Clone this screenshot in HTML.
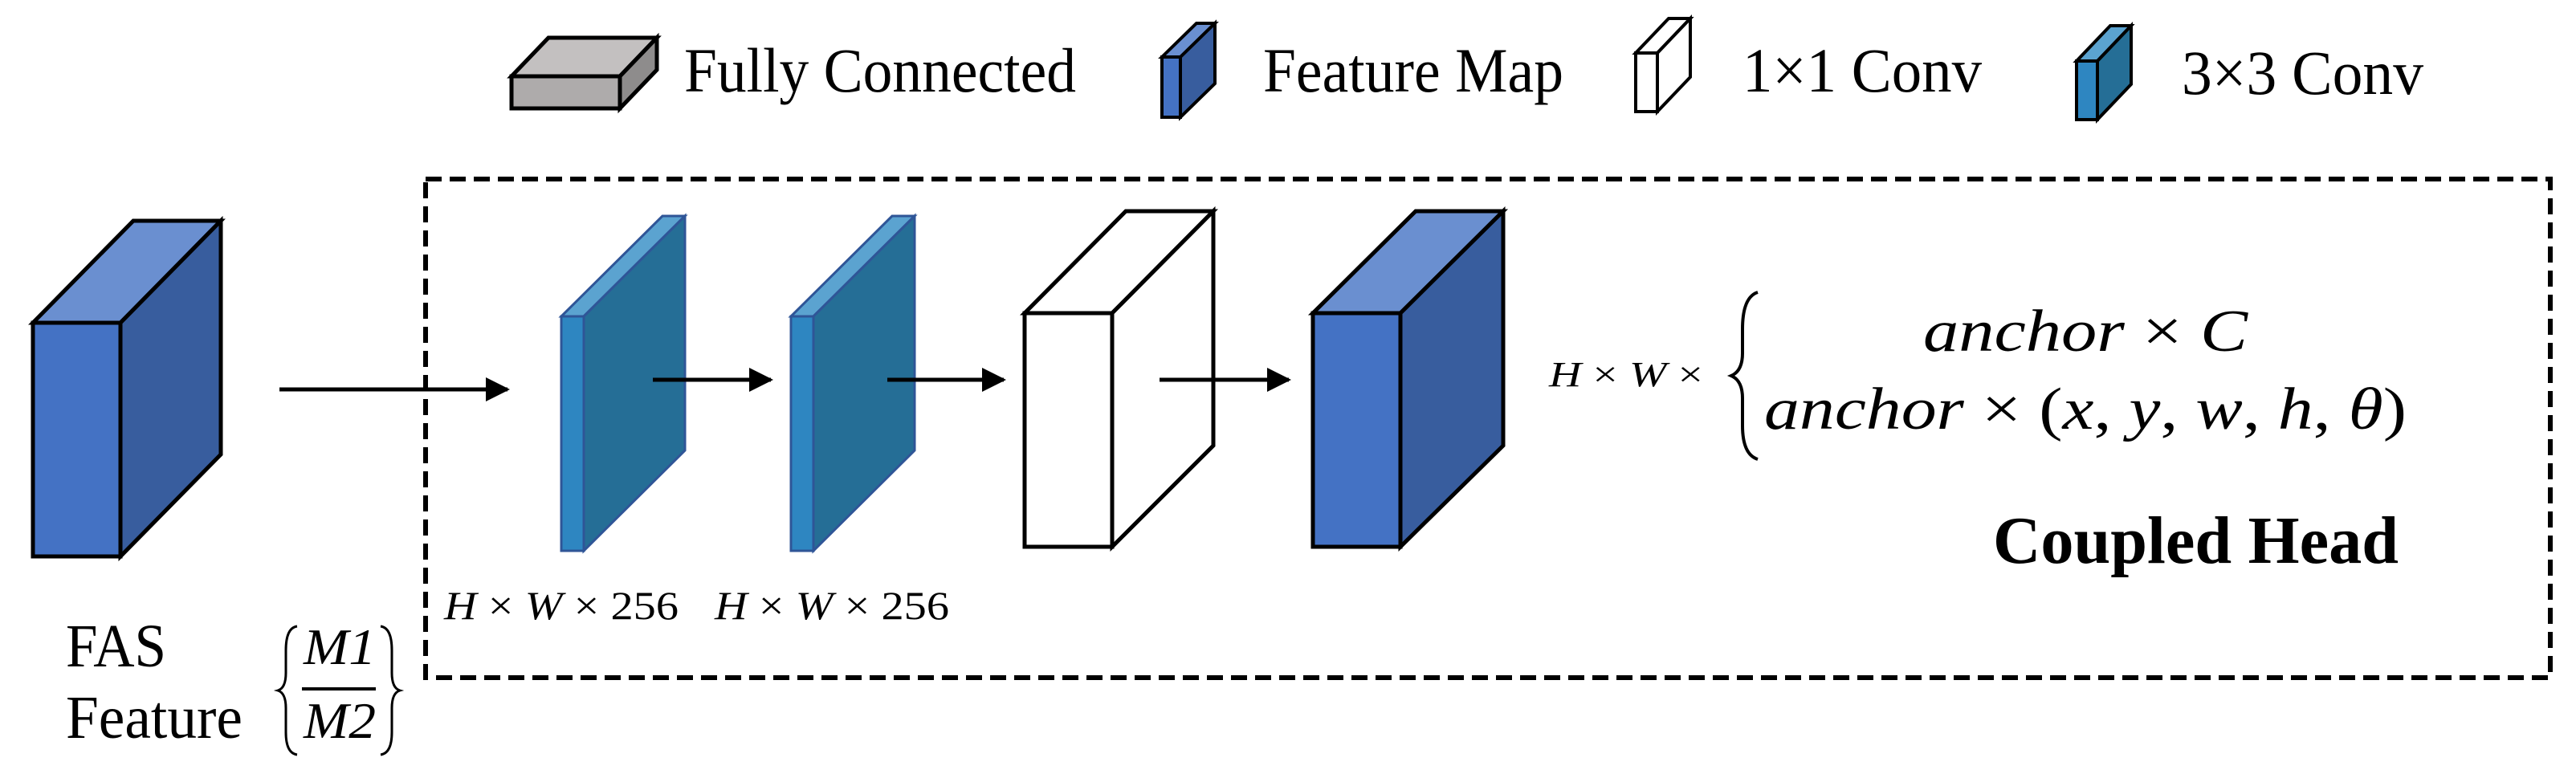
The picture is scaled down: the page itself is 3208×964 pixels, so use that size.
<!DOCTYPE html>
<html><head><meta charset="utf-8"><style>html,body{margin:0;padding:0;background:#fff}svg{display:block}</style></head>
<body>
<svg width="3208" height="964" viewBox="0 0 3208 964" xmlns="http://www.w3.org/2000/svg" font-family="Liberation Serif, serif">
<defs>
<marker id="ah" markerWidth="6" markerHeight="6" refX="5.4" refY="3" orient="auto" markerUnits="strokeWidth"><path d="M0,0 L6,3 L0,6 z" fill="#000"/></marker>
</defs>
<g stroke-linejoin="miter">
<polygon points="637,95 683,47 818,47 772,95" fill="#C3C0C0" stroke="#000" stroke-width="5"/>
<polygon points="772,95 818,47 818,87 772,135" fill="#8E8C8C" stroke="#000" stroke-width="5"/>
<rect x="637" y="95" width="135" height="40" fill="#AEABAB" stroke="#000" stroke-width="5"/>
<polygon points="1447,71 1490,29 1513,29 1470,71" fill="#6A8FD0" stroke="#000" stroke-width="4"/>
<polygon points="1470,71 1513,29 1513,104 1470,146" fill="#385D9E" stroke="#000" stroke-width="4"/>
<rect x="1447" y="71" width="23" height="75" fill="#4472C4" stroke="#000" stroke-width="4"/>
<polygon points="2037,66 2078,23 2105,23 2064,66" fill="#fff" stroke="#000" stroke-width="4"/>
<polygon points="2064,66 2105,23 2105,96 2064,139" fill="#fff" stroke="#000" stroke-width="4"/>
<rect x="2037" y="66" width="27" height="73" fill="#fff" stroke="#000" stroke-width="4"/>
<polygon points="2586,76 2628,32 2654,32 2612,76" fill="#5BA3D0" stroke="#000" stroke-width="4"/>
<polygon points="2612,76 2654,32 2654,105 2612,149" fill="#256E96" stroke="#000" stroke-width="4"/>
<rect x="2586" y="76" width="26" height="73" fill="#2E86C1" stroke="#000" stroke-width="4"/>

<polygon points="41,402 166,275 275,275 150,402" fill="#6A8FD0" stroke="#000" stroke-width="5"/>
<polygon points="150,402 275,275 275,566 150,693" fill="#385D9E" stroke="#000" stroke-width="5"/>
<rect x="41" y="402" width="109" height="291" fill="#4472C4" stroke="#000" stroke-width="5"/>

<polygon points="699,394 825,269 853,269 727,394" fill="#5BA3D0" stroke="#2F5597" stroke-width="3"/>
<polygon points="727,394 853,269 853,561 727,686" fill="#256E96" stroke="#2F5597" stroke-width="3"/>
<rect x="699" y="394" width="28" height="292" fill="#2E86C1" stroke="#2F5597" stroke-width="3"/>
<polygon points="985,394 1111,269 1139,269 1013,394" fill="#5BA3D0" stroke="#2F5597" stroke-width="3"/>
<polygon points="1013,394 1139,269 1139,561 1013,686" fill="#256E96" stroke="#2F5597" stroke-width="3"/>
<rect x="985" y="394" width="28" height="292" fill="#2E86C1" stroke="#2F5597" stroke-width="3"/>
<polygon points="1276,390 1402,263 1511,263 1385,390" fill="#fff" stroke="#000" stroke-width="5"/>
<polygon points="1385,390 1511,263 1511,555 1385,681" fill="#fff" stroke="#000" stroke-width="5"/>
<rect x="1276" y="390" width="109" height="291" fill="#fff" stroke="#000" stroke-width="5"/>
<polygon points="1635,390 1763,263 1872,263 1744,390" fill="#6A8FD0" stroke="#000" stroke-width="5"/>
<polygon points="1744,390 1872,263 1872,555 1744,681" fill="#385D9E" stroke="#000" stroke-width="5"/>
<rect x="1635" y="390" width="109" height="291" fill="#4472C4" stroke="#000" stroke-width="5"/>
</g>

<rect x="530" y="223" width="2646" height="621" fill="none" stroke="#000" stroke-width="6" stroke-dasharray="20,10"/>

<g stroke="#000" stroke-width="5" fill="none" marker-end="url(#ah)">
<line x1="348" y1="485" x2="632" y2="485"/>
<line x1="813" y1="473" x2="960" y2="473"/>
<line x1="1105" y1="473" x2="1250" y2="473"/>
<line x1="1444" y1="473" x2="1605" y2="473"/>
</g>

<g font-size="78" fill="#000">
<text x="852" y="114" textLength="488" lengthAdjust="spacingAndGlyphs">Fully Connected</text>
<text x="1573" y="114" textLength="374" lengthAdjust="spacingAndGlyphs">Feature Map</text>
<text x="2170" y="114" textLength="298" lengthAdjust="spacingAndGlyphs">1×1 Conv</text>
<text x="2717" y="117" textLength="301" lengthAdjust="spacingAndGlyphs">3×3 Conv</text>
</g>

<g font-size="76" fill="#000">
<text x="82" y="830" textLength="125" lengthAdjust="spacingAndGlyphs">FAS</text>
<text x="82" y="919" textLength="220" lengthAdjust="spacingAndGlyphs">Feature</text>
</g>
<g font-style="italic" font-size="64" fill="#000">
<text x="378" y="827" textLength="90" lengthAdjust="spacingAndGlyphs">M1</text>
<text x="378" y="919" textLength="90" lengthAdjust="spacingAndGlyphs">M2</text>
</g>
<line x1="376" y1="858" x2="468" y2="858" stroke="#000" stroke-width="4"/>
<path d="M370,780 Q356,782 356,810 L356,838 Q356,857 346,860 Q356,863 356,882 L356,912 Q356,938 370,940" fill="none" stroke="#000" stroke-width="3"/>
<path d="M474,780 Q488,782 488,810 L488,838 Q488,857 498,860 Q488,863 488,882 L488,912 Q488,938 474,940" fill="none" stroke="#000" stroke-width="3"/>

<g font-size="50" fill="#000">
<text x="553" y="771" textLength="292" lengthAdjust="spacingAndGlyphs"><tspan font-style="italic">H</tspan> × <tspan font-style="italic">W</tspan> × 256</text>
<text x="890" y="771" textLength="292" lengthAdjust="spacingAndGlyphs"><tspan font-style="italic">H</tspan> × <tspan font-style="italic">W</tspan> × 256</text>
<text x="1929" y="481" font-size="44" textLength="192" lengthAdjust="spacingAndGlyphs"><tspan font-style="italic">H</tspan> × <tspan font-style="italic">W</tspan> ×</text>
</g>

<path d="M2189,364 Q2170,370 2170,410 L2170,440 Q2170,462 2156,468 Q2170,474 2170,496 L2170,530 Q2170,566 2189,572" fill="none" stroke="#000" stroke-width="4"/>
<g font-size="74" fill="#000">
<text x="2395" y="437" textLength="404" lengthAdjust="spacingAndGlyphs"><tspan font-style="italic">anchor</tspan> × <tspan font-style="italic">C</tspan></text>
<text x="2197" y="534" textLength="800" lengthAdjust="spacingAndGlyphs"><tspan font-style="italic">anchor</tspan> × (<tspan font-style="italic">x</tspan>, <tspan font-style="italic">y</tspan>, <tspan font-style="italic">w</tspan>, <tspan font-style="italic">h</tspan>, <tspan font-style="italic">θ</tspan>)</text>
</g>

<text x="2482" y="701" font-size="84" font-weight="bold" textLength="505" lengthAdjust="spacingAndGlyphs">Coupled Head</text>
</svg>
</body></html>
